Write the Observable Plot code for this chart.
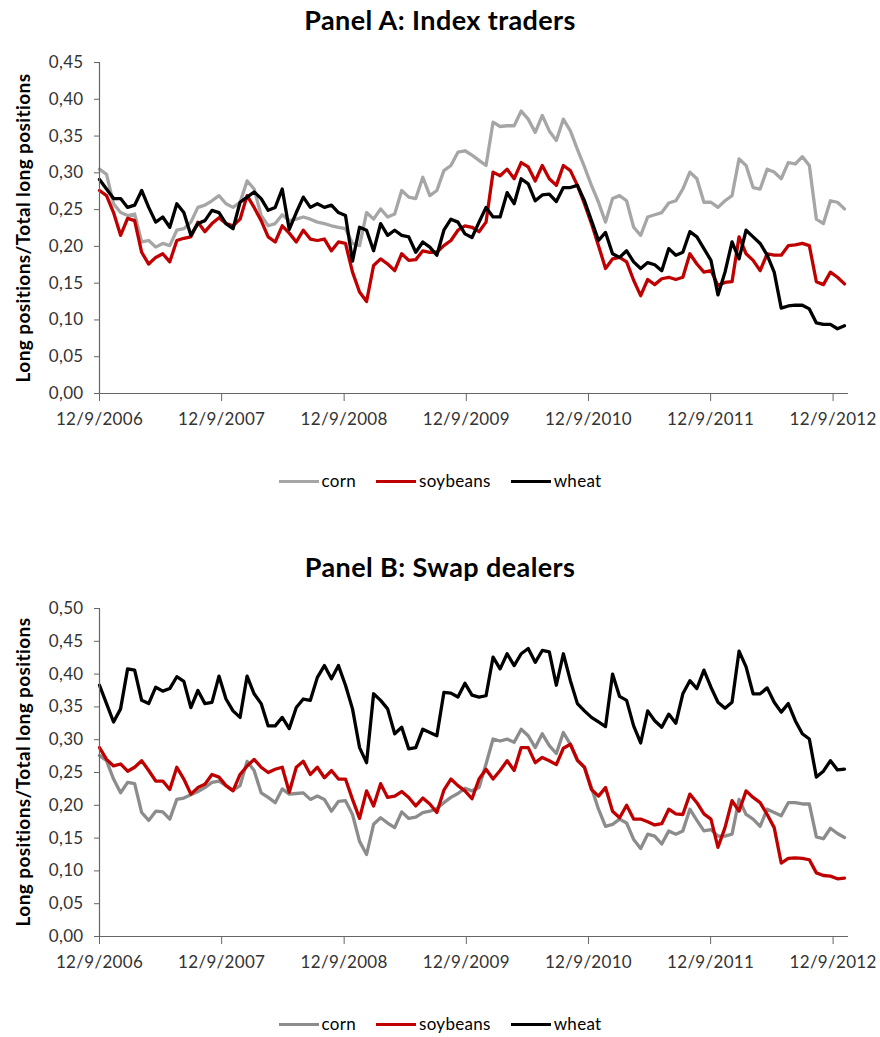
<!DOCTYPE html>
<html>
<head>
<meta charset="utf-8">
<script src="https://cdn.jsdelivr.net/npm/d3@7"></script>
<script src="https://cdn.jsdelivr.net/npm/@observablehq/plot@0.6"></script>
<style>
  body { margin: 0; background: #fff; font-family: Lato, "Open Sans", sans-serif; }
  #wrap { position: relative; width: 880px; height: 1037px; overflow: hidden; }
  .panel { position: absolute; left: 0; }
  .title { position: absolute; left: 0; width: 880px; text-align: center; font-weight: bold; font-size: 27px; letter-spacing: 0.4px; color: #000; line-height: 32px; }
  .ylab { position: absolute; font-weight: bold; font-size: 19px; letter-spacing: 0.4px; white-space: nowrap; color: #000;
          transform: translate(-50%, -50%) rotate(-90deg); }
  .legend { position: absolute; left: 0; width: 880px; display: flex; justify-content: center; gap: 20px;
            font-size: 17px; letter-spacing: 0.3px; color: #000; line-height: 20px; }
  .item { display: flex; align-items: center; gap: 3px; }
  .sw { width: 40px; height: 3px; }
</style>
</head>
<body>
<div id="wrap"></div>
<script>
// ---- data -------------------------------------------------------------
const xTickLabels = ["12/9/2006", "12/9/2007", "12/9/2008", "12/9/2009", "12/9/2010", "12/9/2011", "12/9/2012"];
const seriesNames = ["corn", "soybeans", "wheat"];
const startDate = "2006-12-09";   // first observation
const stepDays = 21;              // one reading every three weeks
const yTicksA = [0, 0.05, 0.10, 0.15, 0.20, 0.25, 0.30, 0.35, 0.40, 0.45];
const yTicksB = [0, 0.05, 0.10, 0.15, 0.20, 0.25, 0.30, 0.35, 0.40, 0.45, 0.50];

// Panel A: Index traders
const cornA = [0.305,0.298,0.258,0.246,0.242,0.244,0.206,0.208,0.199,0.204,0.201,0.222,0.224,0.233,0.253,0.256,0.262,0.269,0.258,0.253,
  0.26,0.289,0.278,0.242,0.228,0.231,0.243,0.235,0.237,0.24,0.237,0.233,0.231,0.228,0.226,0.224,0.204,0.201,0.246,0.237,
  0.251,0.24,0.244,0.276,0.267,0.265,0.294,0.269,0.276,0.303,0.31,0.328,0.33,0.324,0.317,0.31,0.369,0.363,0.364,0.364,
  0.384,0.373,0.355,0.378,0.357,0.344,0.373,0.357,0.332,0.308,0.283,0.26,0.233,0.265,0.269,0.262,0.226,0.215,0.24,0.243,
  0.246,0.259,0.262,0.278,0.301,0.292,0.26,0.26,0.253,0.262,0.269,0.319,0.31,0.28,0.278,0.305,0.301,0.292,0.314,0.312,
  0.322,0.31,0.237,0.231,0.262,0.26,0.251];
const soyA = [0.276,0.269,0.246,0.215,0.238,0.235,0.192,0.176,0.185,0.19,0.179,0.208,0.211,0.213,0.233,0.22,0.231,0.239,0.231,0.228,
  0.237,0.269,0.253,0.235,0.213,0.206,0.228,0.218,0.206,0.222,0.21,0.208,0.21,0.194,0.206,0.204,0.165,0.138,0.125,0.174,
  0.183,0.176,0.167,0.19,0.181,0.182,0.194,0.192,0.192,0.201,0.208,0.222,0.228,0.226,0.22,0.233,0.301,0.296,0.305,0.292,
  0.314,0.308,0.289,0.31,0.292,0.283,0.31,0.303,0.283,0.258,0.231,0.201,0.17,0.183,0.185,0.179,0.154,0.133,0.155,0.148,
  0.156,0.158,0.155,0.158,0.19,0.176,0.165,0.167,0.147,0.151,0.152,0.213,0.19,0.181,0.167,0.19,0.188,0.188,0.201,0.202,
  0.204,0.201,0.152,0.148,0.165,0.158,0.149];
const wheatA = [0.291,0.278,0.265,0.265,0.253,0.256,0.276,0.253,0.233,0.24,0.226,0.258,0.246,0.215,0.231,0.235,0.249,0.246,0.231,0.224,
  0.26,0.267,0.274,0.265,0.249,0.253,0.278,0.223,0.246,0.267,0.253,0.258,0.253,0.256,0.246,0.242,0.18,0.226,0.222,0.194,
  0.231,0.215,0.222,0.215,0.213,0.192,0.206,0.199,0.188,0.222,0.237,0.233,0.217,0.212,0.233,0.253,0.24,0.24,0.273,0.258,
  0.292,0.285,0.262,0.27,0.271,0.261,0.28,0.28,0.283,0.262,0.235,0.208,0.219,0.19,0.185,0.194,0.179,0.17,0.178,0.175,
  0.167,0.197,0.188,0.192,0.22,0.213,0.197,0.181,0.134,0.165,0.206,0.183,0.222,0.213,0.204,0.188,0.165,0.116,0.119,0.12,
  0.12,0.115,0.096,0.094,0.094,0.088,0.092];

// Panel B: Swap dealers
const cornB = [0.276,0.268,0.24,0.219,0.235,0.233,0.189,0.177,0.191,0.19,0.179,0.209,0.211,0.216,0.221,0.227,0.235,0.237,0.23,0.223,
  0.23,0.267,0.253,0.219,0.212,0.204,0.225,0.217,0.218,0.219,0.209,0.214,0.209,0.191,0.206,0.207,0.186,0.145,0.125,0.171,
  0.181,0.173,0.166,0.19,0.18,0.182,0.189,0.191,0.195,0.204,0.212,0.218,0.226,0.222,0.227,0.263,0.301,0.298,0.301,0.296,
  0.316,0.306,0.288,0.309,0.291,0.279,0.311,0.293,0.268,0.258,0.227,0.194,0.168,0.171,0.179,0.173,0.148,0.134,0.156,0.153,
  0.141,0.161,0.156,0.161,0.194,0.177,0.161,0.163,0.153,0.153,0.156,0.209,0.186,0.179,0.168,0.194,0.189,0.184,0.204,0.204,
  0.202,0.202,0.152,0.149,0.165,0.157,0.151];
const soyB = [0.288,0.27,0.26,0.263,0.252,0.258,0.268,0.253,0.237,0.237,0.224,0.258,0.24,0.217,0.227,0.232,0.247,0.243,0.23,0.222,
  0.247,0.26,0.27,0.258,0.25,0.255,0.258,0.22,0.258,0.267,0.247,0.258,0.242,0.253,0.24,0.24,0.209,0.18,0.222,0.199,
  0.233,0.212,0.214,0.221,0.212,0.199,0.211,0.202,0.189,0.223,0.24,0.23,0.222,0.21,0.24,0.255,0.24,0.253,0.268,0.253,
  0.288,0.288,0.265,0.273,0.268,0.262,0.287,0.293,0.269,0.258,0.224,0.214,0.227,0.191,0.181,0.2,0.179,0.179,0.175,0.17,
  0.172,0.194,0.187,0.186,0.217,0.204,0.187,0.179,0.136,0.166,0.207,0.191,0.222,0.212,0.204,0.186,0.166,0.112,0.119,0.12,
  0.119,0.117,0.097,0.093,0.092,0.088,0.089];
const wheatB = [0.383,0.355,0.327,0.347,0.408,0.406,0.36,0.355,0.38,0.374,0.378,0.396,0.389,0.349,0.375,0.355,0.357,0.397,0.362,0.344,
  0.334,0.397,0.37,0.355,0.321,0.321,0.334,0.317,0.349,0.362,0.36,0.395,0.413,0.393,0.413,0.383,0.347,0.288,0.265,0.37,
  0.36,0.347,0.309,0.319,0.286,0.288,0.316,0.311,0.306,0.372,0.371,0.365,0.386,0.368,0.365,0.367,0.426,0.408,0.431,0.413,
  0.431,0.439,0.418,0.436,0.434,0.383,0.431,0.39,0.355,0.344,0.334,0.327,0.32,0.40,0.366,0.36,0.321,0.295,0.344,0.329,
  0.319,0.339,0.325,0.37,0.39,0.378,0.406,0.38,0.357,0.348,0.357,0.435,0.411,0.37,0.37,0.379,0.357,0.342,0.355,0.329,
  0.309,0.301,0.243,0.252,0.268,0.254,0.255];

// ---- helpers -----------------------------------------------------------
const parseMDY = s => { const [m, d, y] = s.split("/").map(Number); return new Date(Date.UTC(y, m - 1, d)); };
const fmtMDY = d => `${d.getUTCMonth() + 1}/${d.getUTCDate()}/${d.getUTCFullYear()}`;
const t0 = new Date(startDate + "T00:00:00Z");
const dateAt = i => new Date(t0.getTime() + i * stepDays * 864e5);
const xTicks = xTickLabels.map(parseMDY);
const xDomain = [xTicks[0], new Date(Date.UTC(2013, 0, 24))];
const yFmt = d => d.toFixed(2).replace(".", ",");

function rows(arrs) {
  const out = [];
  arrs.forEach((arr, k) => arr.forEach((v, i) => out.push({date: dateAt(i), value: v, series: seriesNames[k]})));
  return out;
}

function panel({data, yMax, yTicks, colors, top, height, mt, mb}) {
  const chart = Plot.plot({
    width: 880, height, marginTop: mt, marginBottom: mb, marginLeft: 99, marginRight: 32,
    style: {fontFamily: "Lato, 'Open Sans', sans-serif", fontSize: "17px", letterSpacing: "0.3px", color: "#333", background: "transparent", overflow: "visible"},
    x: {type: "utc", domain: xDomain},
    y: {domain: [0, yMax]},
    color: {domain: seriesNames, range: colors},
    marks: [
      Plot.axisY({ticks: yTicks, tickFormat: yFmt, tickSize: 5, tickPadding: 11, label: null, stroke: "#666"}),
      Plot.axisX({ticks: xTicks, tickFormat: fmtMDY, tickSize: 8, tickPadding: 11, label: null, stroke: "#666"}),
      Plot.lineY(data, {x: "date", y: "value", z: "series", stroke: "series", strokeWidth: 3.3, strokeLinejoin: "round"}),
      Plot.ruleX([xDomain[0]], {stroke: "#666", strokeWidth: 1.2}),
      Plot.ruleY([0], {stroke: "#666", strokeWidth: 1.2})
    ]
  });
  chart.classList.add("panel");
  chart.style.top = top + "px";
  return chart;
}

function legend(colors, top) {
  const div = document.createElement("div");
  div.className = "legend";
  div.style.top = top + "px";
  seriesNames.forEach((n, k) => {
    const it = document.createElement("div");
    it.className = "item";
    const sw = document.createElement("div");
    sw.className = "sw";
    sw.style.background = colors[k];
    const tx = document.createElement("span");
    tx.textContent = n;
    it.append(sw, tx);
    div.append(it);
  });
  return div;
}

function addText(cls, text, style) {
  const d = document.createElement("div");
  d.className = cls;
  d.textContent = text;
  Object.assign(d.style, style);
  wrap.append(d);
}

const wrap = document.getElementById("wrap");
const colorsA = ["#a6a6a6", "#c00000", "#000000"];
const colorsB = ["#8c8c8c", "#c00000", "#000000"];

wrap.append(panel({data: rows([cornA, soyA, wheatA]), yMax: 0.45, yTicks: yTicksA, colors: colorsA, top: 0, height: 440, mt: 62, mb: 47}));
wrap.append(panel({data: rows([cornB, soyB, wheatB]), yMax: 0.50, yTicks: yTicksB, colors: colorsB, top: 545, height: 440, mt: 63, mb: 49}));

addText("title", "Panel A: Index traders", {top: "4px"});
addText("title", "Panel B: Swap dealers", {top: "551px"});
addText("ylab", "Long positions/Total long positions", {left: "22px", top: "228px"});
addText("ylab", "Long positions/Total long positions", {left: "22px", top: "772px"});
wrap.append(legend(colorsA, 471));
wrap.append(legend(colorsB, 1014));
</script>
</body>
</html>
